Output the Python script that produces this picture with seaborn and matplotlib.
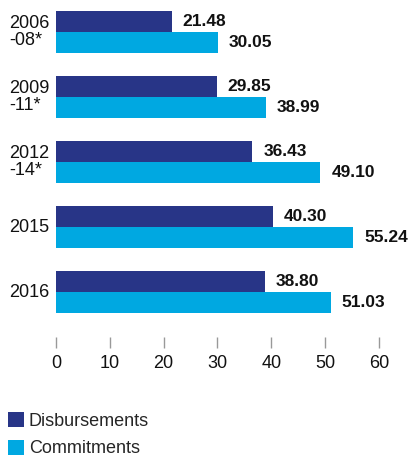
import matplotlib
matplotlib.use("Agg")
import matplotlib.pyplot as plt
import seaborn as sns
import pandas as pd
import matplotlib.transforms as mtrans
from matplotlib.patches import Patch

categories = ["2006\n-08*", "2009\n-11*", "2012\n-14*", "2015", "2016"]
disbursements = [21.48, 29.85, 36.43, 40.30, 38.80]
commitments = [30.05, 38.99, 49.10, 55.24, 51.03]
series_names = ["Disbursements", "Commitments"]
colors = ["#283587", "#00A8E1"]
xticks = [0, 10, 20, 30, 40, 50, 60]

sns.set_theme(style="white")
plt.rcParams["font.family"] = ["Liberation Sans", "DejaVu Sans"]

df = pd.DataFrame({
    "cat": categories * 2,
    "series": [series_names[0]] * len(categories) + [series_names[1]] * len(categories),
    "value": disbursements + commitments,
})

fig = plt.figure(figsize=(4.12, 4.57), dpi=100)
W, H = 412, 457
ax = fig.add_axes([56 / W, (H - 337) / H, 323 / W, 337 / H])

sns.barplot(data=df, y="cat", x="value", hue="series", orient="h",
            palette=colors, width=0.656, saturation=1, ax=ax, legend=False,
            order=categories, hue_order=series_names, linewidth=0,
            edgecolor="none")

ax.set_xlim(0, 60)
ax.set_ylim(4.692, -0.492)
for s in ax.spines.values():
    s.set_visible(False)
ax.set_xticks(xticks)
ax.set_xticklabels([str(t) for t in xticks])
ax.tick_params(axis="x", bottom=True, length=8, width=1, color="#999999",
               direction="out", pad=5, labelsize=13, labelcolor="#111111")
ax.set_yticks([])
ax.set_xlabel("")
ax.set_ylabel("")

for cont in ax.containers:
    ax.bar_label(cont, fmt="%.2f", padding=8, fontsize=12.5, fontweight="bold",
                 color="#111111")

trans = mtrans.blended_transform_factory(fig.transFigure, ax.transData)
for i, lab in enumerate(categories):
    lines = lab.split("\n")
    if len(lines) == 2:
        ax.text(9 / W, i - 0.125, lines[0], transform=trans, ha="left",
                va="center", fontsize=13, color="#111111")
        ax.text(9 / W, i + 0.125, lines[1], transform=trans, ha="left",
                va="center", fontsize=13, color="#111111")
    else:
        ax.text(9 / W, i, lab, transform=trans, ha="left", va="center",
                fontsize=13, color="#111111")

handles = [Patch(facecolor=c, edgecolor="none") for c in colors]
fig.legend(handles, series_names, loc="upper left",
           bbox_to_anchor=(8 / W, 1 - 412 / H), frameon=False,
           borderaxespad=0, borderpad=0, fontsize=13,
           handlelength=0.9, handleheight=0.9, handletextpad=0.25,
           labelspacing=0.55)

fig.savefig("out.png", dpi=100)
